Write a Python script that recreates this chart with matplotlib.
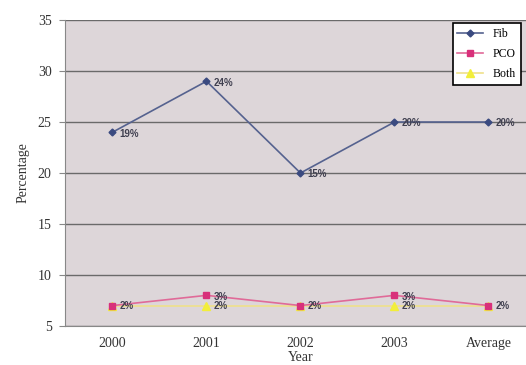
import matplotlib
matplotlib.use("Agg")
import matplotlib.pyplot as plt

categories = ["2000", "2001", "2002", "2003", "Average"]
fib_values = [24, 29, 20, 25, 25]
pco_values = [7, 8, 7, 8, 7]
both_values = [7, 7, 7, 7, 7]
fib_labels = ["19%", "24%", "15%", "20%", "20%"]
pco_labels = ["2%", "3%", "2%", "3%", "2%"]
both_labels = ["2%", "2%", "2%", "2%", "2%"]
y_ticks = [5, 10, 15, 20, 25, 30, 35]

fig = plt.figure(figsize=(5.26, 3.65), dpi=100)
fig.patch.set_facecolor("white")
ax = fig.add_axes([0.1245, 0.107, 0.8935, 0.838])
ax.set_facecolor("#ddd6d9")

x = list(range(len(categories)))
serif = "Liberation Serif"
sans = "Liberation Sans"

ax.plot(x, both_values, color="#efe08a", lw=1.2, marker="^", ms=5.5,
        mfc="#f2ee3a", mec="#f2ee3a", label="Both", zorder=3)
ax.plot(x, pco_values, color="#e06a98", lw=1.2, marker="s", ms=5,
        mfc="#d8307a", mec="#d8307a", label="PCO", zorder=4)
ax.plot(x, fib_values, color="#55628f", lw=1.2, marker="D", ms=3.5,
        mfc="#3a4a80", mec="#3a4a80", label="Fib", zorder=5)

for xi, v, t in zip(x, fib_values, fib_labels):
    ax.annotate(t, (xi, v), xytext=(5, -1), textcoords="offset points",
                fontsize=7, fontfamily=sans, fontweight="bold", color="#404050",
                va="center", ha="left", zorder=6)
for xi, v, t in zip(x, pco_values, pco_labels):
    if v != 7:
        ax.annotate(t, (xi, v), xytext=(5, -1), textcoords="offset points",
                    fontsize=7, fontfamily=sans, fontweight="bold", color="#404050",
                    va="center", ha="left", zorder=6)
for xi, v, t in zip(x, both_values, both_labels):
    ax.annotate(t, (xi, v), xytext=(5, 0), textcoords="offset points",
                fontsize=7, fontfamily=sans, fontweight="bold", color="#404050",
                va="center", ha="left", zorder=6)

ax.set_xlim(-0.5, len(categories) - 0.5)
ax.set_ylim(5, 35)
ax.set_yticks(y_ticks)
ax.set_xticks(x)
ax.set_xticklabels(categories, fontfamily=serif, fontsize=10, color="#333333")
ax.set_yticklabels([str(v) for v in y_ticks], fontfamily=serif, fontsize=10, color="#333333")
ax.yaxis.grid(True, color="#6a6a6a", lw=1.0)
ax.set_axisbelow(True)
for s in ["top", "right"]:
    ax.spines[s].set_visible(False)
ax.spines["left"].set_color("#888888")
ax.spines["bottom"].set_color("#888888")
ax.tick_params(axis="y", length=4, color="#888888", pad=6)
ax.tick_params(axis="x", length=0, pad=8)
ax.set_ylabel("Percentage", fontfamily=serif, fontsize=10, color="#333333", labelpad=6)
ax.set_xlabel("Year", fontfamily=serif, fontsize=10, color="#333333", labelpad=0.5)

handles, labels = ax.get_legend_handles_labels()
order = [2, 1, 0]
leg = ax.legend([handles[i] for i in order], [labels[i] for i in order],
                loc="upper left", bbox_to_anchor=(0.824, 0.99), borderaxespad=0,
                prop={"family": serif, "size": 8.5}, frameon=True, fancybox=False,
                edgecolor="black", framealpha=1, borderpad=0.4, labelspacing=0.7,
                handlelength=2.2)
leg.get_frame().set_linewidth(1.2)

fig.savefig("out.png", dpi=100)
